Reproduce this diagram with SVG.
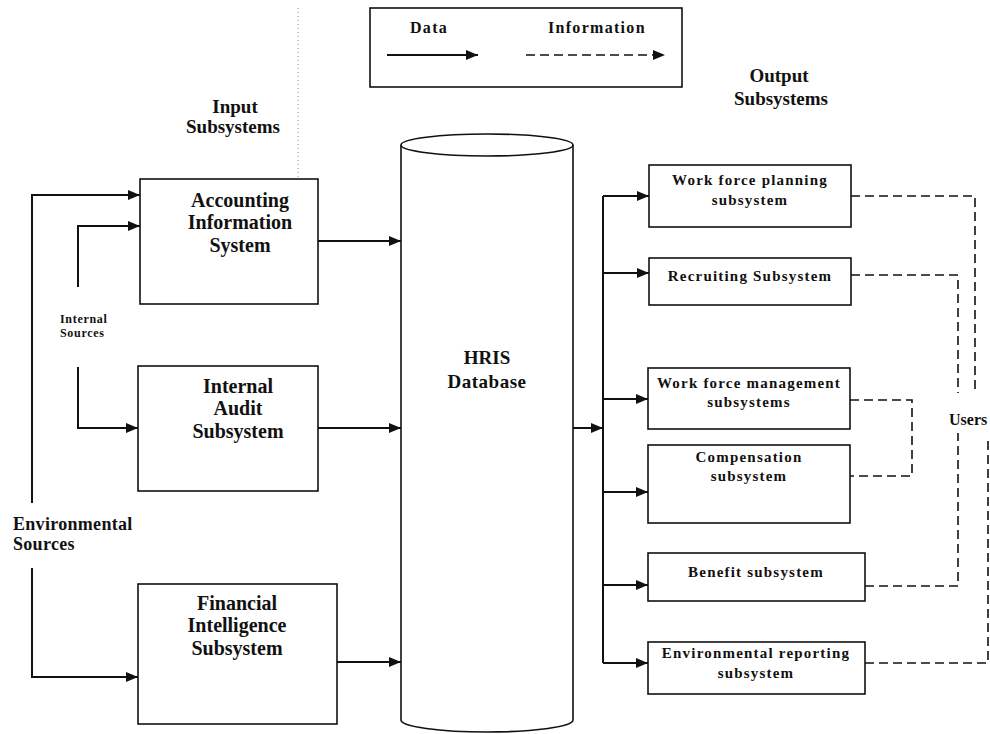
<svg xmlns="http://www.w3.org/2000/svg" width="990" height="734" viewBox="0 0 990 734">
  <style>
    .box { fill: #fff; stroke: #111; stroke-width: 1.6; }
    .flow { fill: none; stroke: #111; stroke-width: 2; }
    .info { fill: none; stroke: #111; stroke-width: 1.6; stroke-dasharray: 9 5; }
    .guide { fill: none; stroke: #999; stroke-width: 1; stroke-dasharray: 1 3; }
    text { font-family: "Liberation Serif", "Times New Roman", serif; font-weight: bold; fill: #111; }
    .big { font-size: 20px; text-anchor: middle; }
    .head { font-size: 19px; text-anchor: middle; }
    .sub { font-size: 15px; letter-spacing: 1.2px; text-anchor: middle; }
    .lbl { font-size: 18px; letter-spacing: 0.3px; }
    .tiny { font-size: 12px; letter-spacing: 0.7px; }
    .leg { font-size: 16px; letter-spacing: 1.3px; }
  </style>
  <defs>
    <marker id="arrow" viewBox="0 0 12 10" refX="12" refY="5" markerWidth="12" markerHeight="10" markerUnits="userSpaceOnUse" orient="auto">
      <path d="M0,0 L12,5 L0,10 Z" fill="#111"/>
    </marker>
  </defs>

  <!-- legend -->
  <g id="legend">
    <rect class="box" x="370" y="8" width="312" height="79"/>
    <text class="leg" x="410" y="33">Data</text>
    <text class="leg" x="548" y="33">Information</text>
    <line class="flow" x1="387" y1="55" x2="478" y2="55" marker-end="url(#arrow)"/>
    <line class="info" x1="526" y1="55" x2="665" y2="55" marker-end="url(#arrow)"/>
  </g>

  <!-- faint guide line -->
  <line class="guide" x1="298" y1="8" x2="298" y2="265"/>

  <!-- section headings -->
  <g id="heading-input">
    <text class="head" x="235" y="113">Input</text>
    <text class="head" x="233" y="133">Subsystems</text>
  </g>
  <g id="heading-output">
    <text class="head" x="779" y="82">Output</text>
    <text class="head" x="781" y="105">Subsystems</text>
  </g>

  <!-- input subsystems -->
  <g id="accounting">
    <rect class="box" x="140" y="179" width="178" height="125"/>
    <text class="big" x="240" y="207">Accounting</text>
    <text class="big" x="240" y="229">Information</text>
    <text class="big" x="240" y="252">System</text>
  </g>
  <g id="audit">
    <rect class="box" x="138" y="366" width="180" height="125"/>
    <text class="big" x="238" y="393">Internal</text>
    <text class="big" x="238" y="415">Audit</text>
    <text class="big" x="238" y="438">Subsystem</text>
  </g>
  <g id="financial">
    <rect class="box" x="138" y="584" width="199" height="140"/>
    <text class="big" x="237" y="610">Financial</text>
    <text class="big" x="237" y="632">Intelligence</text>
    <text class="big" x="237" y="655">Subsystem</text>
  </g>

  <!-- source labels -->
  <g id="internal-sources">
    <text class="tiny" x="60" y="323">Internal</text>
    <text class="tiny" x="60" y="337">Sources</text>
  </g>
  <g id="environmental-sources">
    <text class="lbl" x="13" y="530">Environmental</text>
    <text class="lbl" x="13" y="550">Sources</text>
  </g>

  <!-- database -->
  <g id="hris-database">
    <path class="box" d="M401,145 L401,720 A86,12 0 0 0 573,720 L573,145"/>
    <ellipse class="box" cx="487" cy="145" rx="86" ry="11"/>
    <text class="head" x="487" y="364">HRIS</text>
    <text class="head" x="487" y="388" style="letter-spacing:0.5px">Database</text>
  </g>

  <!-- output subsystems -->
  <g id="planning">
    <rect class="box" x="649" y="165" width="202" height="62"/>
    <text class="sub" x="750" y="185">Work force planning</text>
    <text class="sub" x="750" y="205">subsystem</text>
  </g>
  <g id="recruiting">
    <rect class="box" x="649" y="258" width="202" height="47"/>
    <text class="sub" x="750" y="281">Recruiting Subsystem</text>
  </g>
  <g id="management">
    <rect class="box" x="648" y="368" width="202" height="61"/>
    <text class="sub" x="749" y="388">Work force management</text>
    <text class="sub" x="749" y="407">subsystems</text>
  </g>
  <g id="compensation">
    <rect class="box" x="648" y="445" width="202" height="78"/>
    <text class="sub" x="749" y="462">Compensation</text>
    <text class="sub" x="749" y="481">subsystem</text>
  </g>
  <g id="benefit">
    <rect class="box" x="648" y="553" width="217" height="48"/>
    <text class="sub" x="756" y="577">Benefit subsystem</text>
  </g>
  <g id="env-reporting">
    <rect class="box" x="648" y="642" width="217" height="52"/>
    <text class="sub" x="756" y="658">Environmental reporting</text>
    <text class="sub" x="756" y="678">subsystem</text>
  </g>

  <g id="users">
    <text x="949" y="425" style="font-size:16px">Users</text>
  </g>

  <!-- connectors -->
  <g id="connectors">
    <!-- data flows into the input subsystems -->
    <path class="flow" d="M32,503 L32,195 L140,195" marker-end="url(#arrow)"/>
    <path class="flow" d="M32,568 L32,677 L138,677" marker-end="url(#arrow)"/>
    <path class="flow" d="M78,287 L78,226 L140,226" marker-end="url(#arrow)"/>
    <path class="flow" d="M78,367 L78,428 L138,428" marker-end="url(#arrow)"/>
    <!-- input subsystems to database -->
    <line class="flow" x1="318" y1="241" x2="401" y2="241" marker-end="url(#arrow)"/>
    <line class="flow" x1="318" y1="428" x2="401" y2="428" marker-end="url(#arrow)"/>
    <line class="flow" x1="337" y1="662" x2="401" y2="662" marker-end="url(#arrow)"/>
    <!-- database to output bus -->
    <line class="flow" x1="573" y1="428" x2="603" y2="428" marker-end="url(#arrow)"/>
    <line class="flow" x1="603" y1="196" x2="603" y2="663"/>
    <line class="flow" x1="603" y1="196" x2="649" y2="196" marker-end="url(#arrow)"/>
    <line class="flow" x1="603" y1="273" x2="649" y2="273" marker-end="url(#arrow)"/>
    <line class="flow" x1="603" y1="399" x2="648" y2="399" marker-end="url(#arrow)"/>
    <line class="flow" x1="603" y1="492" x2="648" y2="492" marker-end="url(#arrow)"/>
    <line class="flow" x1="603" y1="585" x2="648" y2="585" marker-end="url(#arrow)"/>
    <line class="flow" x1="603" y1="663" x2="648" y2="663" marker-end="url(#arrow)"/>
    <!-- information to users -->
    <path class="info" d="M851,196 L975,196 L975,392"/>
    <path class="info" d="M851,275 L958,275 L958,393"/>
    <path class="info" d="M850,400 L912,400 L912,476 L850,476"/>
    <path class="info" d="M865,586 L958,586 L958,433"/>
    <path class="info" d="M865,663 L988,663 L988,440"/>
  </g>
</svg>
